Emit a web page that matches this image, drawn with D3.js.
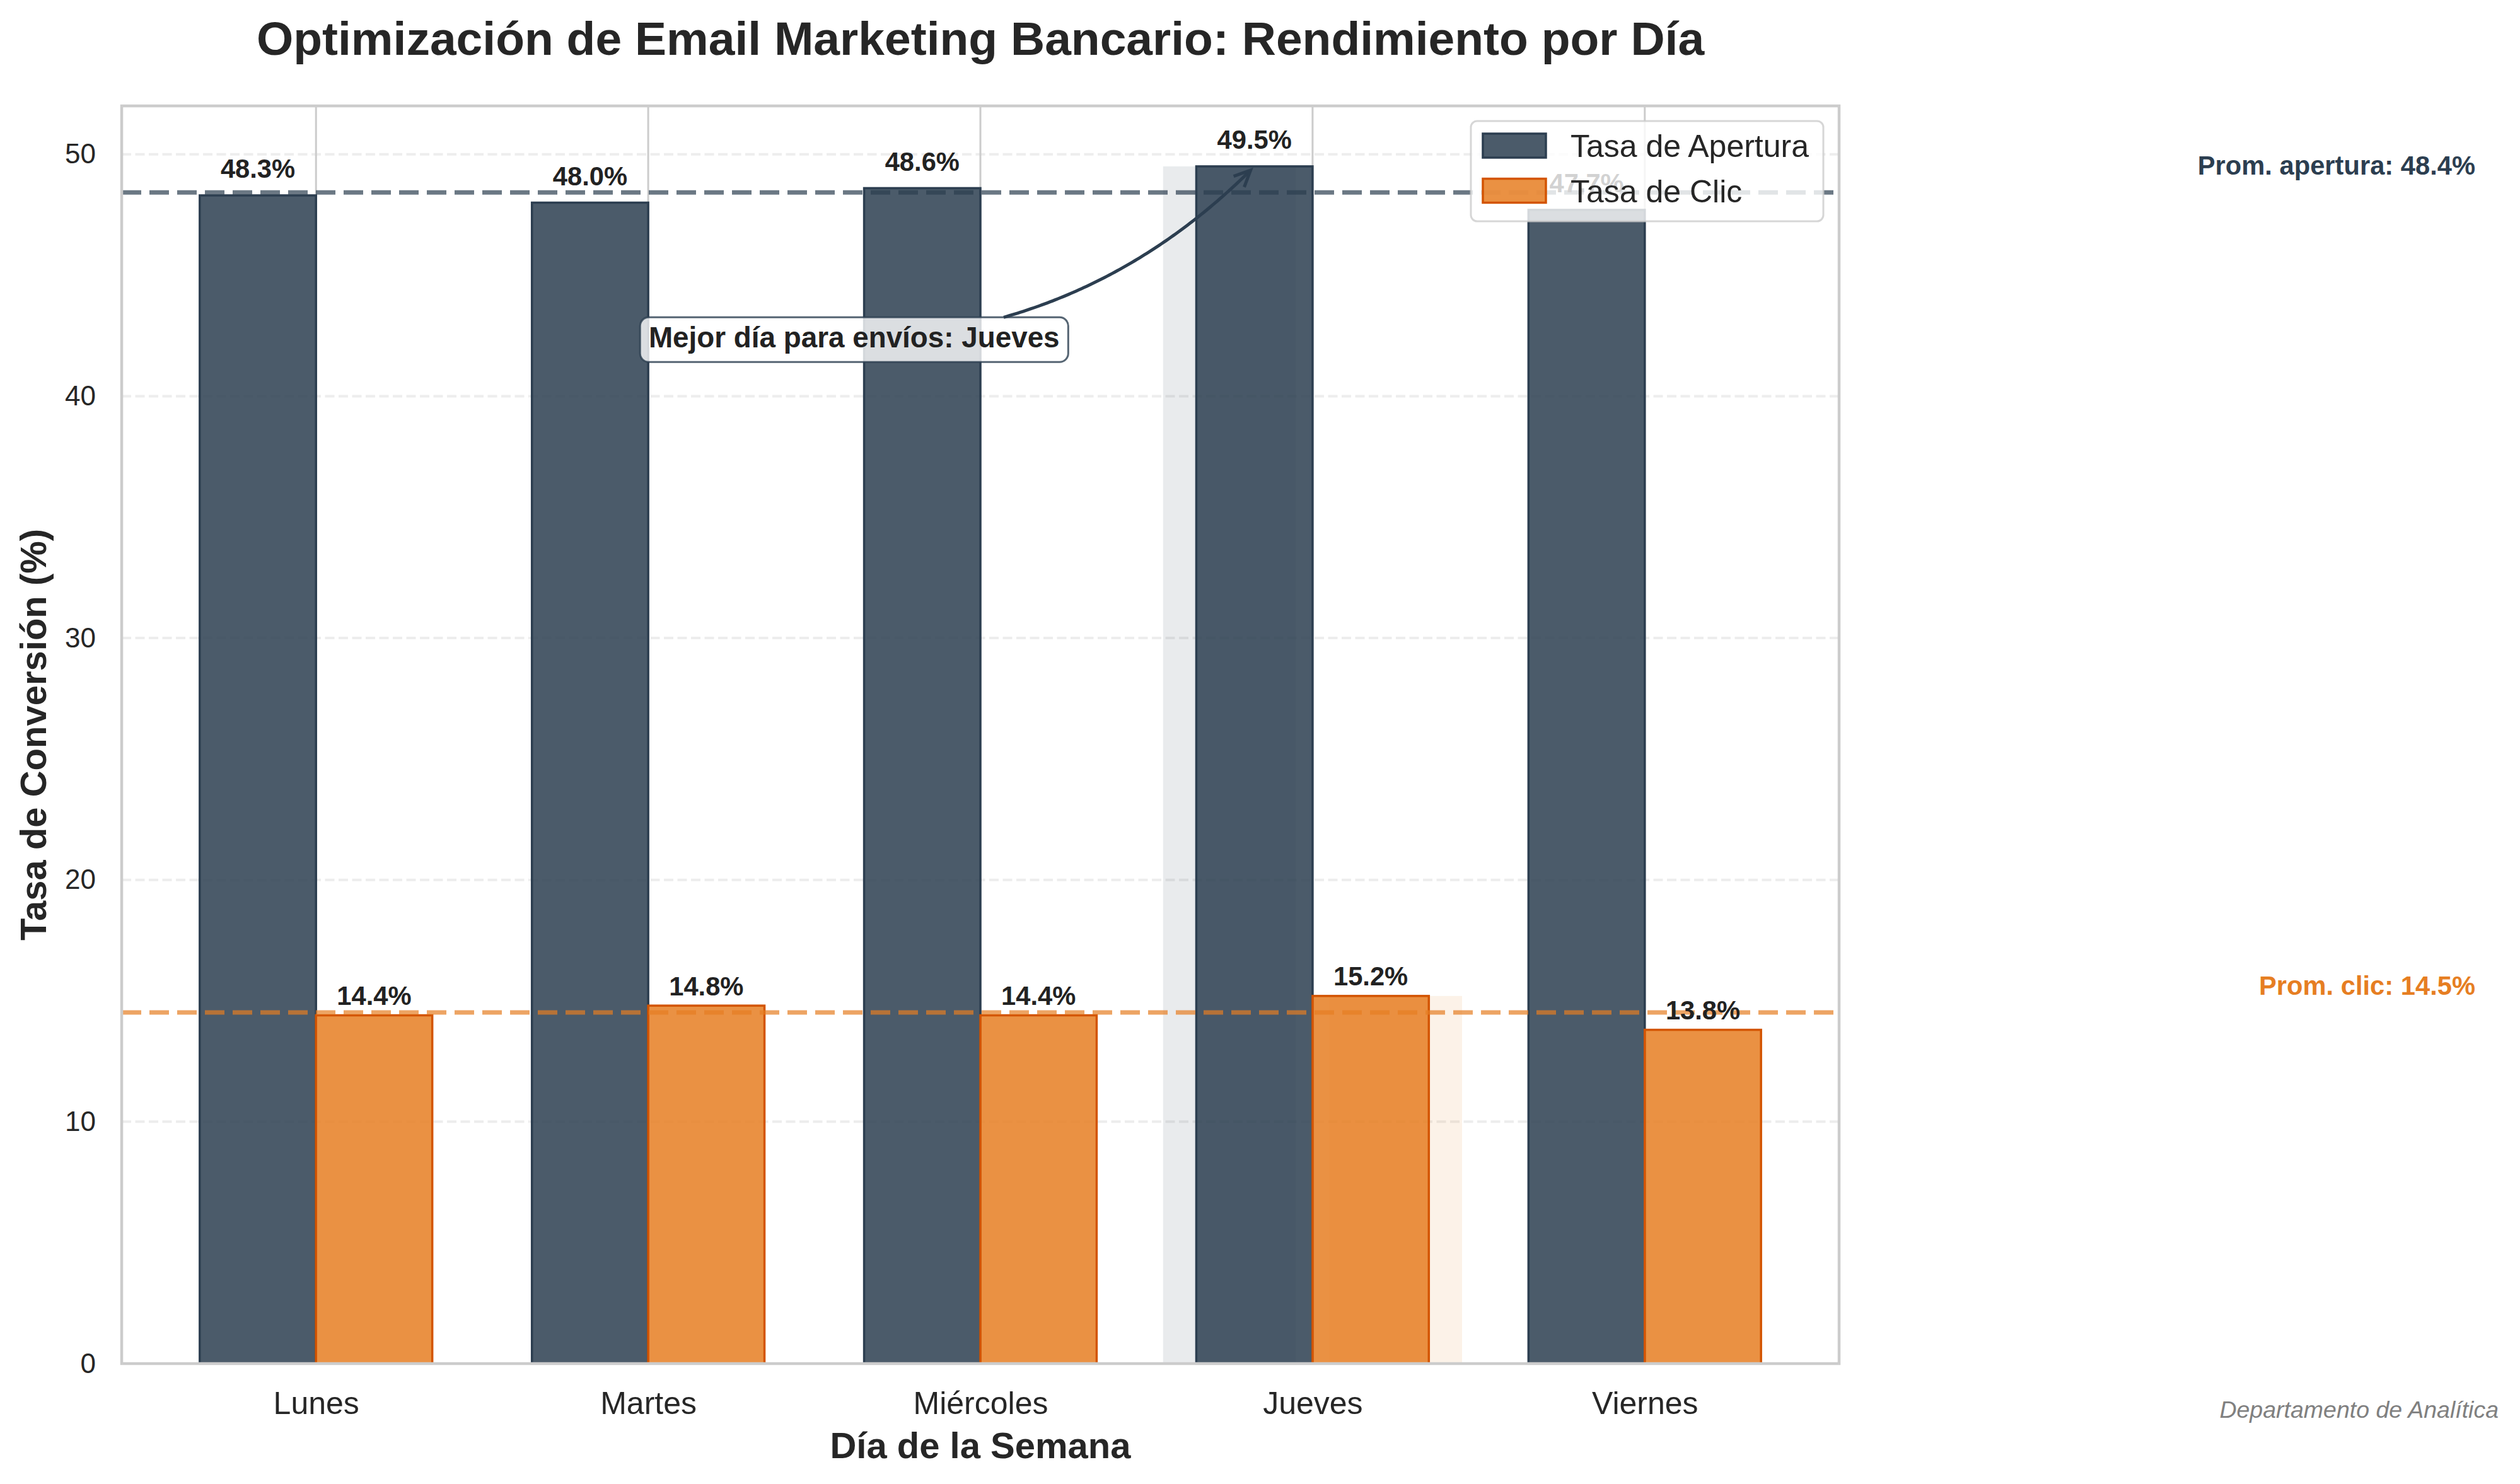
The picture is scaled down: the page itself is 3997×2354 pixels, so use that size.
<!DOCTYPE html>
<html>
<head>
<meta charset="utf-8">
<script src="https://cdn.jsdelivr.net/npm/d3@7"></script>
<style>
  html, body { margin: 0; padding: 0; background: #ffffff; }
  svg { display: block; }
  text { font-family: "Liberation Sans", Arial, Helvetica, sans-serif; }
</style>
</head>
<body>
<svg id="chart" width="3997" height="2354"></svg>
<script>
// ---------------- DATA ----------------
const days = ["Lunes", "Martes", "Miércoles", "Jueves", "Viernes"];
const tasaApertura = [48.3, 48.0, 48.6, 49.5, 47.7];
const tasaClic = [14.4, 14.8, 14.4, 15.2, 13.8];
const yTicks = [0, 10, 20, 30, 40, 50];
const seriesNames = ["Tasa de Apertura", "Tasa de Clic"];
const titleText = "Optimización de Email Marketing Bancario: Rendimiento por Día";
const xLabelText = "Día de la Semana";
const yLabelText = "Tasa de Conversión (%)";
const captionText = "Departamento de Analítica";

// ---------------- STYLE ----------------
const W = 3997, H = 2354;
const margin = { left: 193, right: W - 2917, top: 168, bottom: H - 2163 };
const cDark = "#2c3e50", cOrange = "#e67e22", cOrangeEdge = "#d35400";
const textColor = "#262626";
const barW = 0.35;

const svg = d3.select("#chart");
svg.append("rect").attr("width", W).attr("height", H).attr("fill", "#fff");

const x = d3.scaleLinear().domain([-0.585, 4.585]).range([margin.left, W - margin.right]);
const y = d3.scaleLinear().domain([0, 52]).range([H - margin.bottom, margin.top]);
const px = v => x(v) - x(0);

const best = d3.maxIndex(tasaApertura);
const avgA = d3.mean(tasaApertura);
const avgC = d3.mean(tasaClic);

// grid
const g = svg.append("g");
g.selectAll(".vgrid").data(days).join("line")
  .attr("x1", (d, i) => x(i)).attr("x2", (d, i) => x(i))
  .attr("y1", y(52)).attr("y2", y(0))
  .attr("stroke", "#cccccc").attr("stroke-width", 3);
g.selectAll(".hgrid").data(yTicks.filter(t => t > 0)).join("line")
  .attr("x1", x(-0.585)).attr("x2", x(4.585))
  .attr("y1", d => y(d)).attr("y2", d => y(d))
  .attr("stroke", "#cccccc").attr("stroke-opacity", 0.35).attr("stroke-width", 4)
  .attr("stroke-dasharray", "15,6.5");

// highlight for best day
g.append("rect")
  .attr("x", x(best - 0.25 - 0.2)).attr("width", px(0.4))
  .attr("y", y(tasaApertura[best])).attr("height", y(0) - y(tasaApertura[best]))
  .attr("fill", cDark).attr("fill-opacity", 0.1);
g.append("rect")
  .attr("x", x(best + 0.25 - 0.2)).attr("width", px(0.4))
  .attr("y", y(tasaClic[best])).attr("height", y(0) - y(tasaClic[best]))
  .attr("fill", cOrange).attr("fill-opacity", 0.1);

// bars
g.selectAll(".barA").data(tasaApertura).join("rect")
  .attr("x", (d, i) => x(i - barW)).attr("width", px(barW))
  .attr("y", d => y(d)).attr("height", d => y(0) - y(d))
  .attr("fill", cDark).attr("fill-opacity", 0.85)
  .attr("stroke", cDark).attr("stroke-width", 3.5);
g.selectAll(".barC").data(tasaClic).join("rect")
  .attr("x", (d, i) => x(i)).attr("width", px(barW))
  .attr("y", d => y(d)).attr("height", d => y(0) - y(d))
  .attr("fill", cOrange).attr("fill-opacity", 0.85)
  .attr("stroke", cOrangeEdge).attr("stroke-width", 3.5);

// average lines
[[avgA, cDark], [avgC, cOrange]].forEach(([v, c]) => {
  g.append("line")
    .attr("x1", x(-0.585)).attr("x2", x(4.585))
    .attr("y1", y(v)).attr("y2", y(v))
    .attr("stroke", c).attr("stroke-opacity", 0.7).attr("stroke-width", 7)
    .attr("stroke-dasharray", "31,13");
});

// value labels
const vfs = 41.7;
g.selectAll(".lblA").data(tasaApertura).join("text")
  .attr("x", (d, i) => x(i - barW / 2)).attr("y", d => y(d + 0.5) - 0.21 * vfs)
  .attr("text-anchor", "middle").attr("font-size", vfs).attr("font-weight", "bold")
  .attr("fill", "#222").text(d => d.toFixed(1) + "%");
g.selectAll(".lblC").data(tasaClic).join("text")
  .attr("x", (d, i) => x(i + barW / 2)).attr("y", d => y(d + 0.2) - 0.21 * vfs)
  .attr("text-anchor", "middle").attr("font-size", vfs).attr("font-weight", "bold")
  .attr("fill", "#222").text(d => d.toFixed(1) + "%");

// spines
const sp = svg.append("g");
sp.append("rect")
  .attr("x", x(-0.585)).attr("y", y(52))
  .attr("width", x(4.585) - x(-0.585)).attr("height", y(0) - y(52))
  .attr("fill", "none").attr("stroke", "#cccccc").attr("stroke-width", 4.5);

// axes
const yAxis = d3.axisLeft(y).tickValues(yTicks).tickSize(0).tickPadding(41).tickFormat(d3.format("d"));
const yG = svg.append("g").attr("transform", `translate(${x(-0.585)},0)`).call(yAxis);
yG.select(".domain").remove();
yG.selectAll("text").attr("font-size", 44).attr("fill", textColor)
  .style("font-family", '"Liberation Sans", Arial, sans-serif');

const xAxis = d3.axisBottom(x).tickValues(d3.range(days.length)).tickSize(0).tickPadding(44.5)
  .tickFormat(i => days[i]);
const xG = svg.append("g").attr("transform", `translate(0,${y(0)})`).call(xAxis);
xG.select(".domain").remove();
xG.selectAll("text").attr("font-size", 50).attr("fill", textColor)
  .style("font-family", '"Liberation Sans", Arial, sans-serif');

// titles
const axCx = (x(-0.585) + x(4.585)) / 2;
const axCy = (y(0) + y(52)) / 2;
svg.append("text").attr("x", axCx).attr("y", 87).attr("text-anchor", "middle")
  .attr("font-size", 75).attr("font-weight", "bold").attr("fill", textColor).text(titleText);
svg.append("text").attr("x", axCx).attr("y", 2313).attr("text-anchor", "middle")
  .attr("font-size", 58).attr("font-weight", "bold").attr("fill", textColor).text(xLabelText);
svg.append("text").attr("transform", `translate(73,${axCy}) rotate(-90)`).attr("text-anchor", "middle")
  .attr("font-size", 58).attr("font-weight", "bold").attr("fill", textColor).text(yLabelText);

// annotation
const afs = 45.8;
const annX = x(1.62), annBase = y(42.03);
const annText = svg.append("text").attr("x", annX).attr("y", annBase).attr("text-anchor", "middle")
  .attr("font-size", afs).attr("font-weight", "bold").attr("fill", "#222")
  .text("Mejor día para envíos: " + days[best]);
const tw = annText.node().getComputedTextLength();
const pad = 0.3 * afs;
const bx0 = annX - tw / 2 - pad, bx1 = annX + tw / 2 + pad;
const by0 = annBase - 1.03 * afs, by1 = annBase + 0.52 * afs;
svg.insert("rect", () => annText.node())
  .attr("x", bx0).attr("y", by0).attr("width", bx1 - bx0).attr("height", by1 - by0)
  .attr("rx", pad).attr("ry", pad)
  .attr("fill", "#fff").attr("fill-opacity", 0.8)
  .attr("stroke", cDark).attr("stroke-opacity", 0.8).attr("stroke-width", 3);

// arrow (arc3, rad=0.2)
const P0 = [annX, (by0 + by1) / 2];
const P2 = [x(best - barW / 2), y(tasaApertura[best])];
const dxs = P2[0] - P0[0], dys = P2[1] - P0[1];
const C = [(P0[0] + P2[0]) / 2 - 0.2 * dys, (P0[1] + P2[1]) / 2 + 0.2 * dxs];
const bez = t => [
  (1 - t) * (1 - t) * P0[0] + 2 * t * (1 - t) * C[0] + t * t * P2[0],
  (1 - t) * (1 - t) * P0[1] + 2 * t * (1 - t) * C[1] + t * t * P2[1]
];
let t0 = 0;
for (let t = 0; t <= 1; t += 0.0005) {
  const p = bez(t);
  if (p[1] < by0 || p[0] > bx1) { t0 = t; break; }
}
let t1 = 1;
for (let t = 1; t >= 0; t -= 0.0005) {
  const p = bez(t);
  if (Math.hypot(p[0] - P2[0], p[1] - P2[1]) >= 8.3) { t1 = t; break; }
}
const pts = d3.range(0, 101).map(k => bez(t0 + (t1 - t0) * k / 100));
svg.append("path").attr("d", d3.line()(pts))
  .attr("fill", "none").attr("stroke", cDark).attr("stroke-width", 5);
const tip = pts[pts.length - 1], prev = pts[pts.length - 3];
const ang = Math.atan2(tip[1] - prev[1], tip[0] - prev[0]);
const hl = 26, hw = 12;
const back = [tip[0] - hl * Math.cos(ang), tip[1] - hl * Math.sin(ang)];
const nx = -Math.sin(ang), ny = Math.cos(ang);
svg.append("path")
  .attr("d", d3.line()([[back[0] + hw * nx, back[1] + hw * ny], tip, [back[0] - hw * nx, back[1] - hw * ny]]))
  .attr("fill", "none").attr("stroke", cDark).attr("stroke-width", 5).attr("stroke-linejoin", "miter");

// legend
const lfs = 50;
const lg = svg.append("g");
const tmp = lg.append("text").attr("font-size", lfs).text(seriesNames[0]);
const ltw = d3.max(seriesNames, s => { tmp.text(s); return tmp.node().getComputedTextLength(); });
tmp.remove();
const lw = 19 + 100 + 39 + ltw + 23;
const lx = x(4.585) - 25 - lw, ly = y(52) + 24, lh = 159;
lg.append("rect").attr("x", lx).attr("y", ly).attr("width", lw).attr("height", lh)
  .attr("rx", 10).attr("ry", 10)
  .attr("fill", "#fff").attr("fill-opacity", 0.8)
  .attr("stroke", "#cccccc").attr("stroke-opacity", 0.8).attr("stroke-width", 3);
const legItems = [
  { name: seriesNames[0], fill: cDark, edge: cDark },
  { name: seriesNames[1], fill: cOrange, edge: cOrangeEdge }
];
legItems.forEach((it, k) => {
  const cy = ly + 39 + k * 71.5;
  lg.append("rect").attr("x", lx + 19).attr("y", cy - 19).attr("width", 100).attr("height", 38)
    .attr("fill", it.fill).attr("fill-opacity", 0.85).attr("stroke", it.edge).attr("stroke-width", 3.5);
  lg.append("text").attr("x", lx + 19 + 100 + 39).attr("y", cy + 18)
    .attr("font-size", lfs).attr("fill", textColor).text(it.name);
});

// average labels
const pfs = 41.7;
svg.append("text").attr("x", x(6.5)).attr("y", y(avgA + 0.5) - 0.21 * pfs).attr("text-anchor", "end")
  .attr("font-size", pfs).attr("font-weight", "bold").attr("fill", cDark)
  .text(`Prom. apertura: ${avgA.toFixed(1)}%`);
svg.append("text").attr("x", x(6.5)).attr("y", y(avgC + 0.5) - 0.21 * pfs).attr("text-anchor", "end")
  .attr("font-size", pfs).attr("font-weight", "bold").attr("fill", cOrange)
  .text(`Prom. clic: ${avgC.toFixed(1)}%`);

// caption
svg.append("text").attr("x", 3963).attr("y", 2249).attr("text-anchor", "end")
  .attr("font-size", 37.5).attr("font-style", "italic").attr("fill", "#808080")
  .text(captionText);
</script>
</body>
</html>
